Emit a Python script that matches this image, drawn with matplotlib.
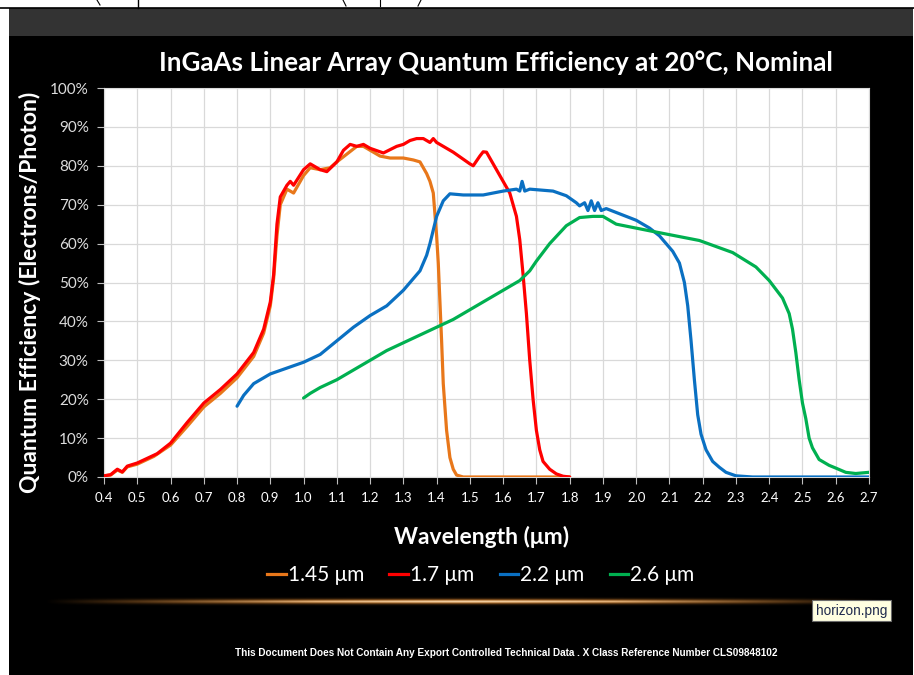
import numpy as np
import matplotlib.pyplot as plt
from matplotlib import font_manager
from matplotlib.patches import Rectangle
from matplotlib.lines import Line2D

# wavelength (um) / QE (%)
wl_145 = [0.40, 0.42, 0.44, 0.455, 0.47, 0.50, 0.55, 0.60, 0.65, 0.70, 0.75, 0.80, 0.85, 0.88,
          0.90, 0.91, 0.92, 0.93, 0.95, 0.97, 1.00, 1.02, 1.05, 1.08, 1.10, 1.13, 1.16, 1.18,
          1.20, 1.23, 1.26, 1.30, 1.33, 1.35, 1.37, 1.38, 1.39, 1.40, 1.405, 1.41, 1.415,
          1.42, 1.43, 1.44, 1.45, 1.46, 1.48, 1.60, 1.80]
qe_145 = [0.3, 0.5, 1.8, 1.2, 2.6, 3.3, 5.3, 8.2, 13, 18, 21.5, 25.5, 31, 37,
          44, 51, 62, 70, 74, 73, 77.5, 79.5, 79, 79.5, 81, 83, 85, 85,
          84, 82.5, 82, 82, 81.5, 81, 78, 76, 73, 62, 55, 45, 35,
          24, 12, 5, 2, 0.5, 0, 0, 0]

wl_17 = [0.40, 0.42, 0.44, 0.455, 0.47, 0.50, 0.56, 0.60, 0.65, 0.70, 0.75, 0.80, 0.85, 0.88,
         0.90, 0.91, 0.92, 0.93, 0.95, 0.96, 0.97, 1.00, 1.02, 1.05, 1.07, 1.10, 1.12, 1.14,
         1.16, 1.18, 1.20, 1.24, 1.28, 1.30, 1.32, 1.34, 1.36, 1.38, 1.39, 1.40, 1.45, 1.50,
         1.51, 1.53, 1.54, 1.55, 1.58, 1.60, 1.62, 1.64, 1.65, 1.66, 1.67, 1.68, 1.69,
         1.70, 1.71, 1.72, 1.74, 1.76, 1.78, 1.80]
qe_17 = [0.3, 0.6, 2.0, 1.3, 2.8, 3.6, 6.0, 8.7, 14, 19, 22.5, 26.5, 32, 38,
         45, 52, 65, 72, 75, 76, 75, 79, 80.5, 79, 78.5, 81, 84, 85.5,
         85, 85.5, 84.5, 83.3, 85, 85.5, 86.5, 87, 87, 86, 87, 86, 83.5, 80.5,
         80, 82.5, 83.6, 83.5, 79, 76, 73, 67, 61, 52, 42, 30, 20,
         12, 7, 4, 2, 0.8, 0.2, 0]

wl_22 = [0.80, 0.82, 0.85, 0.90, 0.95, 1.00, 1.05, 1.10, 1.15, 1.20, 1.25, 1.30, 1.35, 1.37,
         1.38, 1.40, 1.42, 1.44, 1.48, 1.54, 1.60, 1.64, 1.65, 1.657, 1.665, 1.68, 1.75,
         1.79, 1.82, 1.83, 1.845, 1.855, 1.865, 1.875, 1.885, 1.895, 1.91, 1.94, 2.00,
         2.04, 2.07, 2.11, 2.13, 2.145, 2.155, 2.165, 2.175, 2.185, 2.195, 2.21, 2.23,
         2.25, 2.27, 2.30, 2.35, 2.70]
qe_22 = [18.2, 21, 24, 26.5, 28, 29.5, 31.5, 35, 38.5, 41.5, 44, 48, 53, 57,
         60, 67, 71, 72.8, 72.5, 72.5, 73.5, 74, 73.5, 76, 73.5, 74, 73.5,
         72.3, 70.5, 69.7, 70.5, 68.5, 71, 68.5, 70.5, 68.5, 69, 68, 66,
         64, 62, 58, 55, 50, 44, 35, 25, 16, 11, 7, 4,
         2.5, 1.2, 0.3, 0, 0]

wl_26 = [1.00, 1.02, 1.05, 1.10, 1.15, 1.20, 1.25, 1.30, 1.35, 1.40, 1.45, 1.50, 1.55, 1.60,
         1.65, 1.68, 1.70, 1.74, 1.79, 1.83, 1.87, 1.90, 1.94, 2.04, 2.19, 2.29, 2.36,
         2.40, 2.44, 2.46, 2.47, 2.48, 2.49, 2.50, 2.51, 2.52, 2.53, 2.55, 2.58, 2.60,
         2.63, 2.66, 2.70]
qe_26 = [20.3, 21.5, 23, 25, 27.5, 30, 32.5, 34.5, 36.5, 38.5, 40.5, 43, 45.5, 48,
         50.5, 53, 55.5, 60, 64.6, 66.7, 67, 67, 65, 63.3, 60.8, 57.7, 54,
         50.5, 46, 42, 38, 32, 25, 19, 15, 10, 7.5, 4.5, 3, 2.3,
         1.2, 0.9, 1.2]

series = [
    (wl_145, qe_145, '#E8771A', '1.45 \u03bcm'),
    (wl_17, qe_17, '#FF0000', '1.7 \u03bcm'),
    (wl_22, qe_22, '#0A70C2', '2.2 \u03bcm'),
    (wl_26, qe_26, '#00B050', '2.6 \u03bcm'),
]
x_ticks = np.round(np.arange(0.4, 2.71, 0.1), 1)
y_ticks = np.arange(0, 101, 10)

W, H = 914, 675
plt.rcParams['font.family'] = ['Lato', 'DejaVu Sans']
fig = plt.figure(figsize=(W / 100, H / 100), dpi=100)
fig.patch.set_facecolor('white')


def fx(px):
    return px / W


def fy(py):
    return 1 - py / H


# page background pieces
fig.add_artist(Rectangle((fx(9), 0), fx(904), fy(36), transform=fig.transFigure,
                         facecolor='black', edgecolor='none', zorder=0))
fig.add_artist(Rectangle((fx(9), fy(36)), fx(904), 28 / H, transform=fig.transFigure,
                         facecolor='#333333', edgecolor='none', zorder=0))
fig.add_artist(Line2D([0, 1], [fy(7.5), fy(7.5)], transform=fig.transFigure,
                      color='black', lw=1.2))
fig.add_artist(Line2D([fx(138), fx(138)], [fy(7.5), 1], transform=fig.transFigure,
                      color='black', lw=1))
fig.add_artist(Line2D([fx(97), fx(100)], [1, fy(5)], transform=fig.transFigure,
                      color='black', lw=0.8))
fig.add_artist(Line2D([fx(343), fx(346)], [1, fy(6)], transform=fig.transFigure,
                      color='black', lw=0.8))
fig.add_artist(Line2D([fx(380), fx(380)], [1, fy(6)], transform=fig.transFigure,
                      color='black', lw=0.8))
fig.add_artist(Line2D([fx(421), fx(418)], [1, fy(6)], transform=fig.transFigure,
                      color='black', lw=0.8))

ax = fig.add_axes([fx(104), fy(477), fx(765), 389 / H])
ax.set_facecolor('white')
for wl, qe, c, lab in series:
    ax.plot(wl, qe, color=c, lw=2.3, label=lab, solid_capstyle='round', zorder=3)

ax.set_xlim(0.4, 2.7)
ax.set_ylim(0, 100)
ax.set_xticks(x_ticks)
ax.set_xticklabels([f'{v:.1f}' for v in x_ticks], fontsize=9.5, color='white')
ax.set_yticks(y_ticks)
ax.set_yticklabels([f'{v}%' for v in y_ticks], fontsize=11, color='#dddddd')
ax.grid(True, color='#d9d9d9', lw=0.9)
ax.set_axisbelow(True)
ax.tick_params(axis='both', length=5, color='#bfbfbf', width=0.8)
ax.tick_params(axis='x', pad=6)
ax.tick_params(axis='y', pad=6)
for s in ax.spines.values():
    s.set_color('#d9d9d9')

fig.text(fx(496), fy(63), 'InGaAs Linear Array Quantum Efficiency at 20\u00b0C, Nominal',
         color='white', fontsize=18.7, fontweight='bold', ha='center', va='center')
fig.text(fx(30), fy(292), 'Quantum Efficiency (Electrons/Photon)', color='white',
         fontsize=16.5, fontweight='bold', rotation=90, ha='center', va='center')
fig.text(fx(482), fy(537), 'Wavelength (\u03bcm)', color='white', fontsize=16.5,
         fontweight='bold', ha='center', va='center')

handles = [Line2D([], [], color=c, lw=2.3) for _, _, c, _ in series]
leg = fig.legend(handles, [s[3] for s in series], loc='center', ncol=4,
                 bbox_to_anchor=(fx(481), fy(575)), frameon=False, fontsize=15,
                 handlelength=0.9, handletextpad=0.1, columnspacing=1.2,
                 labelcolor='white')

# glowing horizon line
nx, ny = 900, 30
gx = np.linspace(-1, 1, nx)
gy = np.linspace(-1, 1, ny)
hprof = np.clip(1 - np.abs(gx) ** 1.6, 0, 1)
vprof = np.exp(-(gy / 0.16) ** 2)
alpha = np.outer(vprof, hprof)
img = np.zeros((ny, nx, 4))
core = np.outer(np.exp(-(gy / 0.07) ** 2), hprof ** 2)
img[..., 0] = 0.75 + 0.25 * core
img[..., 1] = 0.45 + 0.45 * core
img[..., 2] = 0.15 + 0.6 * core
img[..., 3] = np.clip(alpha * 1.3, 0, 1)
gax = fig.add_axes([fx(45), fy(616), fx(840), 28 / H])
gax.imshow(img, aspect='auto', interpolation='bilinear')
gax.axis('off')

fig.text(fx(851.5), fy(610.5), 'horizon.png', color='#1f2a4d', fontsize=9.8,
         ha='center', va='center', family=['Liberation Sans', 'DejaVu Sans'],
         bbox=dict(boxstyle='square,pad=0.28', facecolor='#FFFFE1',
                   edgecolor='#6b6b6b', lw=0.8))

# footer in a narrow face if there is one
try:
    font_manager.findfont('Liberation Sans Narrow', fallback_to_default=False)
    foot_family, foot_size = ['Liberation Sans Narrow'], 9.2
except ValueError:
    foot_family, foot_size = ['Liberation Sans'], 7.2
fig.text(fx(506), fy(653),
         'This Document Does Not Contain Any Export Controlled Technical Data . '
         'X Class Reference Number CLS09848102',
         color='white', fontsize=foot_size, fontweight='bold', ha='center', va='center',
         family=foot_family)

fig.savefig('out.png', dpi=100, facecolor=fig.get_facecolor())
